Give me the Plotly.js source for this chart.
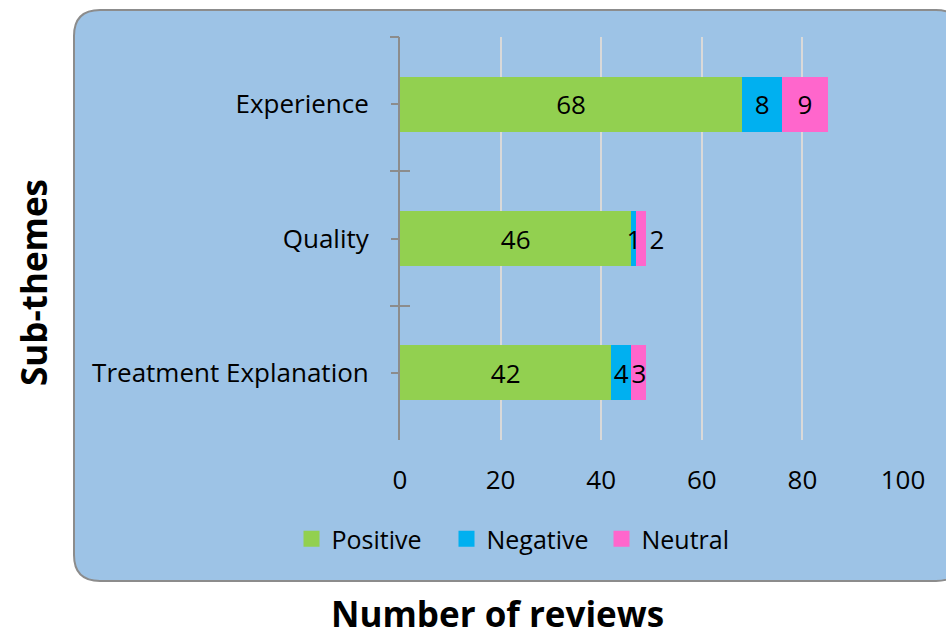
<!DOCTYPE html>
<html>
<head>
<meta charset="utf-8">
<script src="https://cdn.plot.ly/plotly-3.0.1.min.js"></script>
<style>
  html, body { margin: 0; padding: 0; background: #ffffff; }
  #chart { width: 946px; height: 637px; }
</style>
</head>
<body>
<div id="chart"></div>
<script>
// Sub-themes and review counts per sentiment
const categories = ['Experience', 'Quality', 'Treatment Explanation'];
const positive = [68, 46, 42];
const negative = [8, 1, 4];
const neutral = [9, 2, 3];
const seriesNames = ['Positive', 'Negative', 'Neutral'];
const xTicks = [0, 20, 40, 60, 80, 100];

const colors = { Positive: '#92D050', Negative: '#00B0F0', Neutral: '#FF66CC' };
const FONT = '"Open Sans", Lato, sans-serif';
const W = 946, H = 637;
const M = { l: 400, r: 43, t: 37, b: 197 };
const plotW = W - M.l - M.r, plotH = H - M.t - M.b;

// pixel -> paper coordinate helpers for layout decorations
const px = x => (x - M.l) / plotW;
const py = y => (H - M.b - y) / plotH;

function roundedRect(x0, y0, x1, y1, r) {
  const rx = r / plotW, ry = r / plotH;
  const L = px(x0), R = px(x1), T = py(y0), B = py(y1);
  return `M${L + rx},${T} L${R - rx},${T} Q${R},${T} ${R},${T - ry} ` +
         `L${R},${B + ry} Q${R},${B} ${R - rx},${B} ` +
         `L${L + rx},${B} Q${L},${B} ${L},${B + ry} ` +
         `L${L},${T - ry} Q${L},${T} ${L + rx},${T} Z`;
}

function barTrace(name, values, positions) {
  return {
    type: 'bar', orientation: 'h', name: name,
    x: values, y: categories,
    marker: { color: colors[name] },
    text: values.map(String),
    textposition: positions,
    insidetextanchor: 'middle',
    constraintext: 'none',
    textangle: 0,
    cliponaxis: false,
    insidetextfont: { family: FONT, size: 26, color: '#000000' },
    outsidetextfont: { family: FONT, size: 26, color: '#000000' },
    showlegend: false,
    hoverinfo: 'x+y+name'
  };
}

// legend entries drawn as square swatches
function legendTrace(name) {
  return {
    type: 'scatter', mode: 'markers', name: name,
    x: [null], y: [null],
    marker: { symbol: 'square', size: 18, color: colors[name] },
    showlegend: true, hoverinfo: 'skip'
  };
}

// invisible helper traces carrying the boundary ticks on overlay axes
function tickTrace(axis) {
  return {
    type: 'scatter', mode: 'markers', x: positive, y: categories,
    yaxis: axis, marker: { opacity: 0 }, showlegend: false, hoverinfo: 'skip'
  };
}

const data = [
  barTrace('Positive', positive, ['inside', 'inside', 'inside']),
  barTrace('Negative', negative, ['inside', 'inside', 'inside']),
  barTrace('Neutral', neutral, ['inside', 'outside', 'inside']),
  tickTrace('y2'), tickTrace('y3'),
  ...seriesNames.map(legendTrace)
];

const axisGray = '#8c8c8c';
const baseY = {
  type: 'category',
  categoryorder: 'array', categoryarray: categories,
  range: [2.5, -0.5],
  showgrid: false, zeroline: false, fixedrange: true
};

const layout = {
  width: W, height: H,
  margin: M,
  paper_bgcolor: '#ffffff',
  plot_bgcolor: 'rgba(0,0,0,0)',
  barmode: 'stack',
  bargap: 0.59,
  font: { family: FONT, size: 26, color: '#000000' },
  xaxis: {
    range: [0, 100], tickvals: xTicks, ticktext: xTicks.map(String),
    showgrid: true, gridcolor: '#D9D9D9', gridwidth: 2,
    zeroline: false, showline: false, ticks: '',
    ticklabelstandoff: 22,
    tickfont: { family: FONT, size: 26, color: '#000000' },
    fixedrange: true
  },
  yaxis: Object.assign({}, baseY, {
    showline: true, linecolor: axisGray, linewidth: 2,
    ticks: 'outside', tickson: 'labels', ticklen: 7, tickwidth: 2, tickcolor: axisGray,
    ticklabelstandoff: 17,
    tickfont: { family: FONT, size: 26, color: '#000000' }
  }),
  yaxis2: Object.assign({}, baseY, {
    overlaying: 'y', anchor: 'x', side: 'left', showticklabels: false, showline: false,
    ticks: 'outside', tickson: 'boundaries', ticklen: 9, tickwidth: 2, tickcolor: axisGray
  }),
  yaxis3: Object.assign({}, baseY, {
    overlaying: 'y', anchor: 'x', side: 'left', showticklabels: false, showline: false,
    ticks: 'inside', tickson: 'boundaries', ticklen: 10, tickwidth: 2, tickcolor: axisGray
  }),
  legend: {
    orientation: 'h', traceorder: 'normal',
    entrywidth: 110, entrywidthmode: 'pixels',
    x: px(524), xanchor: 'center', y: py(539), yanchor: 'middle',
    bgcolor: 'rgba(0,0,0,0)', font: { family: FONT, size: 25, color: '#000000' },
    itemclick: false, itemdoubleclick: false
  },
  shapes: [{
    type: 'path', xref: 'paper', yref: 'paper', layer: 'below',
    path: roundedRect(74, 10, 962, 581, 26),
    fillcolor: '#9DC3E6', line: { color: '#8c8c8c', width: 2 }
  }],
  annotations: [
    {
      text: '<b>Sub-themes</b>', xref: 'paper', yref: 'paper',
      x: px(33), y: py(283), xanchor: 'center', yanchor: 'middle',
      textangle: -90, showarrow: false,
      font: { family: FONT, size: 35, color: '#000000' }
    },
    {
      text: '<b>Number of reviews</b>', xref: 'paper', yref: 'paper',
      x: px(497), y: py(613), xanchor: 'center', yanchor: 'middle',
      showarrow: false,
      font: { family: FONT, size: 35, color: '#000000' }
    }
  ]
};

Plotly.newPlot('chart', data, layout, { displayModeBar: false, staticPlot: true });
</script>
</body>
</html>
